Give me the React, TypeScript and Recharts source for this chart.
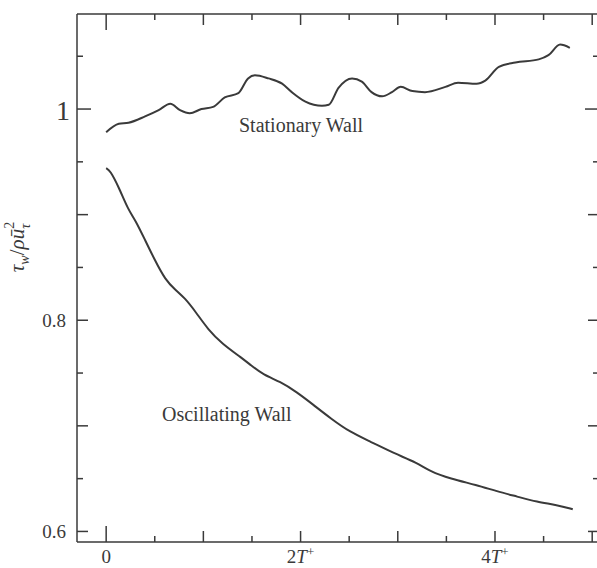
import React from 'react';
import { LineChart, Line, XAxis, YAxis } from 'recharts';

// values (time in units of T+)
const stationaryT = [0, 0.13, 0.23, 0.4, 0.54, 0.66, 0.76, 0.86, 0.98, 1.1, 1.22, 1.36, 1.46, 1.53, 1.67, 1.81, 1.91, 2.05, 2.22, 2.29, 2.39, 2.53, 2.63, 2.73, 2.84, 2.94, 3.03, 3.15, 3.28, 3.49, 3.62, 3.81, 3.9, 4.04, 4.21, 4.45, 4.55, 4.67, 4.77];
const stationaryV = [0.978, 0.986, 0.987, 0.993, 0.999, 1.005, 0.999, 0.996, 1.0, 1.002, 1.011, 1.015, 1.029, 1.032, 1.029, 1.024, 1.016, 1.007, 1.003, 1.004, 1.02, 1.029, 1.026, 1.016, 1.012, 1.016, 1.021, 1.017, 1.016, 1.021, 1.025, 1.024, 1.027, 1.04, 1.044, 1.047, 1.051, 1.061, 1.058];

const oscillatingT = [0, 0.04, 0.13, 0.23, 0.3, 0.4, 0.5, 0.61, 0.71, 0.81, 0.92, 1.05, 1.19, 1.4, 1.48, 1.62, 1.79, 1.96, 2.13, 2.31, 2.51, 2.72, 2.96, 3.2, 3.33, 3.54, 3.81, 4.02, 4.23, 4.43, 4.64, 4.8];
const oscillatingV = [0.944, 0.942, 0.926, 0.904, 0.895, 0.876, 0.857, 0.838, 0.829, 0.821, 0.808, 0.791, 0.778, 0.764, 0.758, 0.748, 0.742, 0.732, 0.72, 0.707, 0.694, 0.685, 0.674, 0.665, 0.657, 0.65, 0.644, 0.638, 0.633, 0.628, 0.625, 0.621];

const xTicks = [0, 0.5, 1, 1.5, 2, 2.5, 3, 3.5, 4, 4.5, 5];
const xLabels: Record<number, string> = { 0: '0', 2: '2', 4: '4' };
const yTicks = [0.6, 0.65, 0.7, 0.75, 0.8, 0.85, 0.9, 0.95, 1.0, 1.05];
const yLabels: Record<string, string> = { '0.6': '0.6', '0.8': '0.8', '1': '1' };

const stationary = stationaryT.map((t, i) => ({ t, v: stationaryV[i] }));
const oscillating = oscillatingT.map((t, i) => ({ t, v: oscillatingV[i] }));

const INK = '#3a3a3a';
const FONT = '"Liberation Serif", "DejaVu Serif", serif';

const xLen = (v: number) => (v === 0 ? 16 : Number.isInteger(v) ? 11 : 6);
const yLen = (v: number) => {
  if (Math.abs(v - 1) < 1e-6) return 14;
  return Math.abs(Math.round(v * 10) - v * 10) < 1e-6 ? 11 : 6;
};

const BottomTick = (props: any) => {
  const { x, y, payload } = props;
  const v = payload.value;
  const lab = xLabels[v];
  return (
    <g>
      <line x1={x} y1={y} x2={x} y2={y - xLen(v)} stroke={INK} strokeWidth={1.5} />
      {lab !== undefined && (
        <text x={x} y={y + 21} textAnchor="middle" fontFamily={FONT} fontSize={19} fill={INK}>
          {lab}
          {v !== 0 && <tspan fontStyle="italic">T</tspan>}
          {v !== 0 && <tspan dy={-7} fontSize={13}>+</tspan>}
        </text>
      )}
    </g>
  );
};

const TopTick = (props: any) => {
  const { x, y, payload } = props;
  return <line x1={x} y1={y} x2={x} y2={y + xLen(payload.value)} stroke={INK} strokeWidth={1.5} />;
};

const LeftTick = (props: any) => {
  const { x, y, payload } = props;
  const v = payload.value;
  const lab = yLabels[String(Math.round(v * 100) / 100)];
  const big = lab === '1';
  return (
    <g>
      <line x1={x} y1={y} x2={x + yLen(v)} y2={y} stroke={INK} strokeWidth={1.5} />
      {lab && (
        <text x={big ? x - 7 : x - 11} y={big ? y + 11 : y + 7} textAnchor="end" fontFamily={FONT} fontSize={big ? 28 : 19} fill={INK}>
          {lab}
        </text>
      )}
    </g>
  );
};

const RightTick = (props: any) => {
  const { x, y, payload } = props;
  const v = payload.value;
  return <line x1={x} y1={y} x2={x - yLen(v)} y2={y} stroke={INK} strokeWidth={1.5} />;
};

const axisLine = { stroke: INK, strokeWidth: 1.5 };

export default function App() {
  return (
    <div style={{ position: 'absolute', left: 0, top: 0, width: 597, height: 568, overflow: 'hidden', background: '#fff' }}>
      <LineChart width={600} height={568} margin={{ top: 13, right: 0, bottom: 0, left: 0 }}>
        <XAxis
          dataKey="t"
          type="number"
          domain={[-0.3, 5.07]}
          ticks={xTicks}
          allowDataOverflow
          height={26}
          tickSize={0}
          tickMargin={0}
          tickLine={false}
          axisLine={axisLine}
          tick={<BottomTick />}
          interval={0}
        />
        <XAxis
          xAxisId="top"
          orientation="top"
          dataKey="t"
          type="number"
          domain={[-0.3, 5.07]}
          ticks={xTicks}
          allowDataOverflow
          height={1}
          tickSize={0}
          tickMargin={0}
          tickLine={false}
          axisLine={axisLine}
          tick={<TopTick />}
          interval={0}
        />
        <YAxis
          type="number"
          domain={[0.59, 1.09]}
          ticks={yTicks}
          allowDataOverflow
          width={77}
          tickSize={0}
          tickMargin={0}
          tickLine={false}
          axisLine={axisLine}
          tick={<LeftTick />}
          interval={0}
        />
        <YAxis
          yAxisId="right"
          orientation="right"
          type="number"
          domain={[0.59, 1.09]}
          ticks={yTicks}
          allowDataOverflow
          width={1}
          tickSize={0}
          tickMargin={0}
          tickLine={false}
          axisLine={axisLine}
          tick={<RightTick />}
          interval={0}
        />
        <Line data={stationary} dataKey="v" type="monotone" stroke={INK} strokeWidth={2} dot={false} isAnimationActive={false} />
        <Line data={oscillating} dataKey="v" type="basis" stroke={INK} strokeWidth={2} dot={false} isAnimationActive={false} />
      </LineChart>
      <svg width={597} height={568} style={{ position: 'absolute', left: 0, top: 0, pointerEvents: 'none' }}>
        <text x={239} y={132} fontFamily={FONT} fontSize={20} fill={INK}>Stationary Wall</text>
        <text x={162} y={421} fontFamily={FONT} fontSize={20} fill={INK}>Oscillating Wall</text>
        <text transform="translate(24,247) rotate(-90)" textAnchor="middle" fontFamily={FONT} fontSize={21} fill={INK}>
          <tspan fontStyle="italic">τ</tspan>
          <tspan fontStyle="italic" fontSize={14} dy={5}>w</tspan>
          <tspan dy={-5}>/</tspan>
          <tspan fontStyle="italic">ρū</tspan>
          <tspan fontSize={14} dy={-10}>2</tspan>
          <tspan fontStyle="italic" fontSize={14} dx={-7} dy={16}>τ</tspan>
        </text>
      </svg>
    </div>
  );
}
